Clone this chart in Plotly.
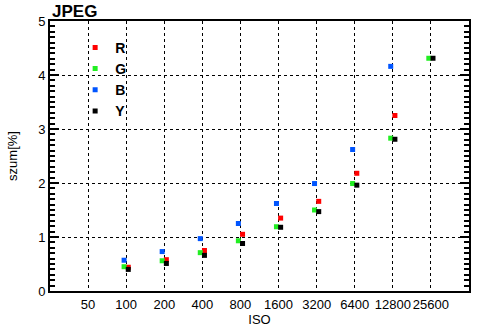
import plotly.graph_objects as go

iso_labels = ["50", "100", "200", "400", "800", "1600", "3200", "6400", "12800", "25600"]
iso_measured = ["100", "200", "400", "800", "1600", "3200", "6400", "12800", "25600"]
noise_R = [0.44, 0.58, 0.75, 1.05, 1.35, 1.66, 2.18, 3.25, 5.05]
noise_G = [0.45, 0.56, 0.71, 0.93, 1.19, 1.50, 1.99, 2.83, 4.31]
noise_B = [0.57, 0.73, 0.97, 1.25, 1.62, 1.99, 2.62, 4.16, None]
noise_Y = [0.40, 0.51, 0.66, 0.88, 1.18, 1.47, 1.96, 2.81, 4.31]

series = [
    ("R", noise_R, "#ff0000", 0.055),
    ("G", noise_G, "#22ee22", -0.055),
    ("B", noise_B, "#0055ff", -0.055),
    ("Y", noise_Y, "#000000", 0.055),
]

idx = [iso_labels.index(s) for s in iso_measured]

fig = go.Figure()
for name, vals, color, off in series:
    fig.add_trace(go.Scatter(
        x=[i + off for i in idx], y=vals, mode="markers", name=name,
        marker=dict(symbol="square", size=5, color=color, line=dict(width=0)),
        cliponaxis=False,
    ))

font = "Liberation Sans, Arial, sans-serif"
minor = dict(dtick=0.1, ticks="inside", ticklen=5, tickcolor="black", tickwidth=1.5, showgrid=False)
fig.update_layout(
    template="simple_white",
    width=494, height=331,
    margin=dict(l=50, r=25, t=21, b=40, autoexpand=False),
    paper_bgcolor="white", plot_bgcolor="white",
    font=dict(family=font, size=13, color="black"),
    title=dict(text="<b>JPEG</b>", x=52/494, xanchor="left", y=1 - 11/331, yanchor="middle",
               font=dict(size=17, family=font, color="black")),
    showlegend=True,
    legend=dict(x=0.06, y=0.96, xanchor="left", yanchor="top", bgcolor="rgba(0,0,0,0)",
                font=dict(size=14, family=font, color="black", weight="bold"),
                itemwidth=30, tracegroupgap=0),
    xaxis=dict(
        range=[-1, 10], tickmode="array", tickvals=list(range(len(iso_labels))), ticktext=iso_labels,
        tickangle=0, automargin=False,
        showgrid=True, gridcolor="black", griddash="dot", gridwidth=1,
        showline=True, linecolor="black", linewidth=2, mirror=True,
        ticks="", zeroline=False,
        title=dict(text="ISO", standoff=0, font=dict(size=13)),
    ),
    yaxis=dict(
        range=[0, 5], tickmode="linear", tick0=0, dtick=1, automargin=False,
        showgrid=True, gridcolor="black", griddash="dot", gridwidth=1,
        showline=True, linecolor="black", linewidth=2, mirror="allticks",
        ticks="inside", ticklen=9, tickcolor="black", tickwidth=2,
        minor=minor,
        zeroline=False,
        title=dict(text="szum[%]", standoff=18, font=dict(size=13)),
    ),
)

fig.write_html("out.html", post_script="document.body.style.margin='0';",
               config={"displayModeBar": False})
